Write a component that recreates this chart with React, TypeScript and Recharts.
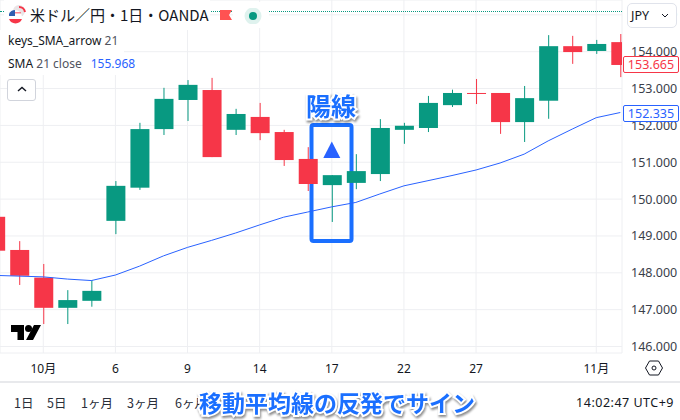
import { Bar, CartesianGrid, ComposedChart, Line, ReferenceArea, ReferenceDot, XAxis, YAxis } from 'recharts';

const opens = [149.52, 148.62, 147.87, 147.05, 147.24, 149.41, 150.31, 151.9, 152.69, 152.96, 151.88, 152.23, 151.82, 151.09, 150.38, 150.44, 150.68, 151.88, 151.93, 152.55, 152.88, 152.88, 152.09, 152.67, 154.15, 154.02, 154.26];
const highs = [149.7, 148.86, 148.24, 147.53, 147.8, 150.49, 152.07, 153.02, 153.23, 153.29, 152.45, 152.61, 151.88, 151.41, 150.65, 151.22, 152.17, 152.07, 152.8, 152.97, 153.26, 152.88, 153.07, 154.45, 154.43, 154.32, 154.48];
const lows = [148.4, 147.67, 146.61, 146.61, 147.08, 149.05, 150.25, 151.74, 152.12, 151.14, 151.74, 151.6, 150.9, 150.22, 149.38, 150.27, 150.49, 151.5, 151.82, 152.5, 152.58, 151.77, 151.55, 152.18, 153.67, 153.94, 153.31];
const closes = [148.6, 147.92, 147.05, 147.26, 147.51, 150.36, 151.9, 152.72, 153.1, 151.14, 152.31, 151.79, 151.06, 150.41, 150.65, 150.76, 151.93, 151.99, 152.61, 152.88, 152.87, 152.09, 152.74, 154.15, 153.99, 154.21, 153.64];
const sma = [147.93, 147.91, 147.89, 147.83, 147.79, 147.94, 148.18, 148.46, 148.69, 148.88, 149.08, 149.3, 149.51, 149.65, 149.79, 149.91, 150.14, 150.36, 150.5, 150.64, 150.79, 150.98, 151.22, 151.58, 151.9, 152.21, 152.35];

const priceTicks = [146, 147, 148, 149, 150, 151, 152, 153, 154, 155];
const dateTicks = [2, 5, 8, 11, 14, 17, 20, 25];
const dateLabels = ['10月', '6', '9', '14', '17', '22', '27', '11月'];
const ranges = ['1日', '5日', '1ヶ月', '3ヶ月', '6ヶ月'];

const GREEN = '#089981';
const RED = '#f63648';
const BLUE = '#2962ff';
const FRAME = '#1a6fff';
const TEXT = '#131722';
const GRID = '#eeeff2';
const FONT = '"Noto Sans", "Noto Sans CJK JP", sans-serif';

const data = opens.map((open, i) => ({
  idx: i,
  open,
  close: closes[i],
  high: highs[i],
  low: lows[i],
  range: [lows[i], highs[i]],
  sma: sma[i],
}));

function Candle(props: any) {
  const { x, y, width, height, payload } = props;
  const perUnit = height / (payload.high - payload.low);
  const top = y + (payload.high - Math.max(payload.open, payload.close)) * perUnit;
  const bodyH = Math.max(1, Math.abs(payload.open - payload.close) * perUnit);
  const color = payload.close >= payload.open ? GREEN : RED;
  return (
    <g>
      <rect x={x + width / 2 - 0.5} y={y} width={1} height={height} fill={color} />
      <rect x={x} y={top} width={width} height={bodyH} fill={color} />
    </g>
  );
}

function Triangle(props: any) {
  const { cx, cy } = props;
  return <path d={`M${cx} ${cy - 8.5} L${cx + 8.5} ${cy + 8} L${cx - 8.5} ${cy + 8} Z`} fill={BLUE} />;
}

const outlined = {
  position: 'absolute' as const,
  color: FRAME,
  fontWeight: 700,
  fontFamily: '"Noto Sans CJK JP", sans-serif',
  WebkitTextStroke: '4px #fff',
  paintOrder: 'stroke fill',
  filter: 'drop-shadow(1px 2px 1px rgba(0,0,0,0.45))',
  whiteSpace: 'nowrap' as const,
  lineHeight: 1,
};

function PriceTag({ top, color, value }: { top: number; color: string; value: string }) {
  return (
    <div
      style={{
        position: 'absolute',
        left: 623,
        top,
        width: 54,
        height: 15,
        border: `1px solid ${color}`,
        borderRadius: 2,
        background: '#fff',
        color,
        fontSize: 12.5,
        lineHeight: '15px',
        textAlign: 'center',
      }}
    >
      {value}
    </div>
  );
}

export default function App() {
  return (
    <div style={{ position: 'absolute', left: 0, top: 0, width: 680, height: 420, background: '#fff', overflow: 'hidden', fontFamily: FONT, color: TEXT }}>
      <ComposedChart width={680} height={420} data={data} margin={{ top: 0, right: 0, bottom: 0, left: 0 }}>
        <CartesianGrid stroke={GRID} />
        <XAxis
          dataKey="idx"
          type="number"
          domain={[0.2, 26.07]}
          allowDataOverflow
          ticks={dateTicks}
          interval={0}
          height={67}
          axisLine={false}
          tickLine={false}
          tickMargin={5}
          tick={{ fontSize: 12, fill: TEXT, fontFamily: FONT }}
          tickFormatter={(v) => dateLabels[dateTicks.indexOf(v)]}
        />
        <YAxis
          orientation="right"
          domain={[145.824, 155.403]}
          allowDataOverflow
          ticks={priceTicks}
          interval={0}
          width={58}
          axisLine={false}
          tickLine={false}
          tickMargin={3}
          tick={{ fontSize: 12.5, fill: '#3a3e4a', fontFamily: FONT }}
          tickFormatter={(v) => v.toFixed(3)}
        />
        <Line dataKey="sma" stroke={BLUE} strokeWidth={1} dot={false} activeDot={false} isAnimationActive={false} />
        <Bar dataKey="range" barSize={19} shape={Candle} isAnimationActive={false} />
        <ReferenceDot x={14} y={151.33} shape={Triangle} />
        <ReferenceArea x1={13.156} x2={14.82} y1={148.86} y2={152.01} fill="none" fillOpacity={0} stroke={FRAME} strokeWidth={4} radius={2} />
      </ComposedChart>

      {/* header */}
      <div style={{ position: 'absolute', left: 0, top: 11, width: 622, borderTop: `1px dotted ${GREEN}` }} />
      <div style={{ position: 'absolute', left: 4, top: 0, width: 206, height: 30, background: '#fff' }} />
      <div style={{ position: 'absolute', left: 233, top: 2, width: 36, height: 26, background: '#fff' }} />
      <svg style={{ position: 'absolute', left: 6, top: 4 }} width={22} height={22}>
        <circle cx={13} cy={7} r={6} fill="#e9e4e6" />
        <path d="M13 3 A6 6 0 0 1 19 8" stroke={RED} strokeWidth={2} fill="none" />
        <circle cx={9} cy={13} r={7} fill="#fff" />
        <path d="M3 15 H16 A7 7 0 0 1 3 15 Z" fill={RED} />
        <path d="M3 10 A7 7 0 0 1 9 6 V12 H3 Z" fill="#2f5fb0" />
        <rect x={9} y={8} width={6} height={1.5} fill={RED} opacity={0.6} />
      </svg>
      <div style={{ position: 'absolute', left: 30, top: 4, fontSize: 15, lineHeight: '22px', whiteSpace: 'nowrap', fontFamily: '"Noto Sans CJK JP", sans-serif' }}>米ドル／円・1日・OANDA</div>
      <svg style={{ position: 'absolute', left: 218, top: 8 }} width={50} height={16}>
        <path d="M2 2 H14 L11 7 L14 12 H2 Z" fill="#ff5252" />
        <circle cx={35} cy={8} r={8.5} fill="#dff2ee" />
        <circle cx={35} cy={8} r={4} fill={GREEN} />
      </svg>
      <div style={{ position: 'absolute', left: 627, top: 3, width: 45, height: 23, border: '1px solid #e0e3eb', borderRadius: 5, background: '#fff', fontSize: 12.5, lineHeight: '23px', paddingLeft: 3, boxSizing: 'content-box', marginRight: 0 }}>
        JPY
        <svg style={{ position: 'absolute', left: 33, top: 9 }} width={8} height={6}><path d="M1 1 L4 4 L7 1" stroke={TEXT} fill="none" /></svg>
      </div>

      {/* legend */}
      <div style={{ position: 'absolute', left: 0, top: 30, width: 124, height: 45, background: '#fff' }} />
      <div style={{ position: 'absolute', left: 8, top: 33, fontSize: 12, lineHeight: '16px' }}>keys_SMA_arrow <span style={{ color: '#50535e' }}>21</span></div>
      <div style={{ position: 'absolute', left: 8, top: 56, fontSize: 12, lineHeight: '16px' }}>
        SMA <span style={{ color: '#50535e' }}>21 close</span>
        <span style={{ color: BLUE, marginLeft: 9 }}>155.968</span>
      </div>
      <div style={{ position: 'absolute', left: 7, top: 79, width: 27, height: 20, border: '1px solid #d1d4dc', borderRadius: 3, background: '#fff' }}>
        <svg style={{ position: 'absolute', left: 9, top: 6 }} width={10} height={7}><path d="M1 5 L5 1.5 L9 5" stroke={TEXT} strokeWidth={1.4} fill="none" /></svg>
      </div>

      {/* logo */}
      <svg style={{ position: 'absolute', left: 11, top: 325 }} width={31} height={15}>
        <path d="M0 0 H13 V15 H6.5 V7 H0 Z" fill="#000" />
        <circle cx={17.5} cy={3.5} r={3.5} fill="#000" />
        <path d="M23 0 H30 L22 15 H15 Z" fill="#000" />
      </svg>

      <PriceTag top={56} color={RED} value="153.665" />
      <PriceTag top={105} color={BLUE} value="152.335" />

      <svg style={{ position: 'absolute', left: 644, top: 359 }} width={20} height={18}>
        <path d="M1.5 9 L5.5 2 H14.5 L18.5 9 L14.5 16 H5.5 Z" stroke={TEXT} fill="none" />
        <circle cx={10} cy={9} r={2} stroke={TEXT} fill="none" />
      </svg>

      {/* bottom toolbar */}
      <div style={{ position: 'absolute', left: 0, top: 381, width: 680, height: 2, background: '#e8e9ec' }} />
      {ranges.map((label, i) => (
        <div key={label} style={{ position: 'absolute', left: [14, 47, 81, 127, 175][i], top: 394, fontSize: 12.5, lineHeight: '18px', color: '#2a2e39', whiteSpace: 'nowrap', fontFamily: '"Noto Sans CJK JP", sans-serif' }}>
          {label}
        </div>
      ))}
      <div style={{ position: 'absolute', right: 6, top: 394, fontSize: 12.5, letterSpacing: 0.5, lineHeight: '18px', whiteSpace: 'nowrap' }}>14:02:47 UTC+9</div>

      {/* annotations */}
      <div style={{ ...outlined, left: 306, top: 93, fontSize: 25, letterSpacing: 0 }}>陽線</div>
      <div style={{ ...outlined, left: 199, top: 391, fontSize: 23 }}>移動平均線の反発でサイン</div>
    </div>
  );
}
